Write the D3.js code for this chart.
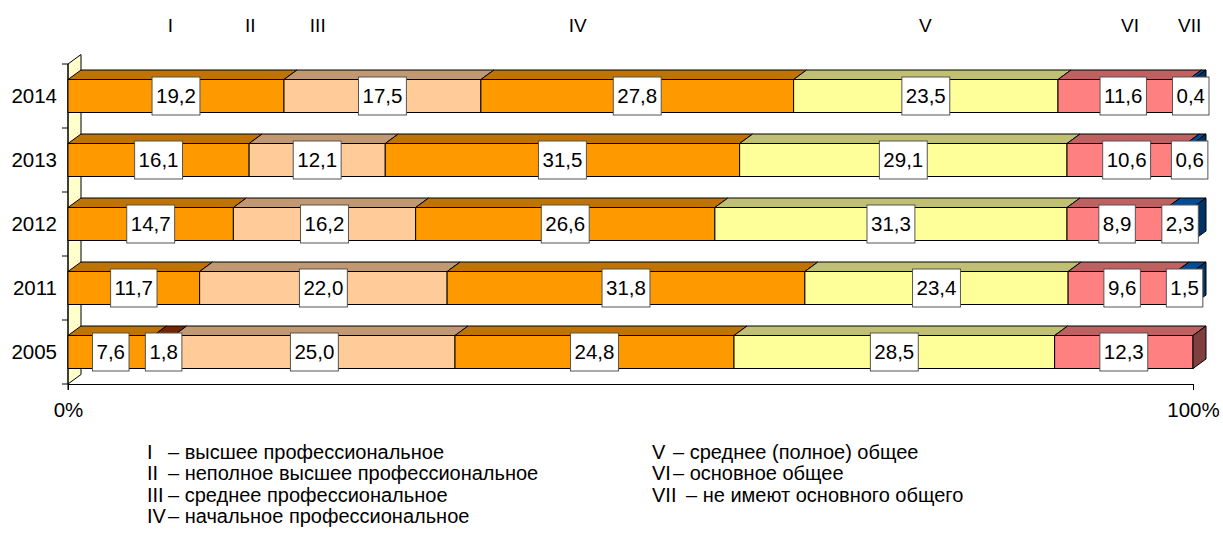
<!DOCTYPE html>
<html>
<head>
<meta charset="utf-8">
<script src="https://cdnjs.cloudflare.com/ajax/libs/d3/7.8.5/d3.min.js"></script>
<style>
  body { margin: 0; background: #fff; }
  text { font-family: "Liberation Sans", Arial, sans-serif; fill: #000; }
</style>
</head>
<body>
<svg id="chart" width="1223" height="536"></svg>
<script>
// Data (percent), bars top to bottom
var years = ["2014", "2013", "2012", "2011", "2005"];
var serI   = [19.2, 16.1, 14.7, 11.7, 7.6];
var serII  = [0, 0, 0, 0, 1.8];
var serIII = [17.5, 12.1, 16.2, 22.0, 25.0];
var serIV  = [27.8, 31.5, 26.6, 31.8, 24.8];
var serV   = [23.5, 29.1, 31.3, 23.4, 28.5];
var serVI  = [11.6, 10.6, 8.9, 9.6, 12.3];
var serVII = [0.4, 0.6, 2.3, 1.5, 0];

var seriesNames = ["I", "II", "III", "IV", "V", "VI", "VII"];
// roman numerals above the plot, position in % of the axis
var romanAt = [9.1, 16.2, 22.2, 45.3, 76.2, 94.4, 99.7];

var legendLeft  = ["высшее профессиональное", "неполное высшее профессиональное",
                   "среднее профессиональное", "начальное профессиональное"];
var legendRight = ["среднее (полное) общее", "основное общее", "не имеют основного общего"];

var series = [serI, serII, serIII, serIV, serV, serVI, serVII];

// front / top / side colours per series
var fronts = ["#FF9900", "#993300", "#FFCC99", "#FF9900", "#FFFF99", "#FF8080", "#0066CC"];
var tops   = ["#C07300", "#732600", "#C09973", "#C07300", "#C0C073", "#C06060", "#004C99"];
var sides  = ["#804D00", "#4D1A00", "#806650", "#804D00", "#80804D", "#804040", "#003366"];

var svg = d3.select('#chart');

var x = d3.scaleLinear().domain([0, 100]).range([68, 1193]);
var y = d3.scaleBand().domain(years).range([64, 384]);

var dx = 13, dy = 9.5, barH = 33;

// side wall
svg.append('polygon')
  .attr('points', [[x(0), y.range()[0]], [x(0) + dx, y.range()[0] - dy],
                   [x(0) + dx, y.range()[1] - dy], [x(0), y.range()[1]]].join(' '))
  .attr('fill', '#FFFFCC')
  .attr('stroke', '#000')
  .attr('stroke-width', 1);

// axes
var yAxisG = svg.append('g').attr('transform', 'translate(' + x(0) + ',0)');
yAxisG.append('line')
  .attr('y1', y.range()[0]).attr('y2', y.range()[1] + 6)
  .attr('stroke', '#000');
var bounds = years.map(function (d) { return y(d); }).concat([y.range()[1]]);
yAxisG.selectAll('.tk').data(bounds).enter().append('line')
  .attr('x1', -6).attr('x2', 0)
  .attr('y1', function (d) { return d; }).attr('y2', function (d) { return d; })
  .attr('stroke', '#000');
yAxisG.selectAll('.yl').data(years).enter().append('text')
  .attr('x', -11)
  .attr('y', function (d) { return y(d) + y.bandwidth() / 2; })
  .attr('dy', '0.36em')
  .attr('text-anchor', 'end')
  .style('font-size', '20.5px')
  .text(function (d) { return d; });

var xAxis = d3.axisBottom(x).tickValues([0, 100]).tickSize(6)
  .tickFormat(function (d) { return d + '%'; });
var xAxisG = svg.append('g')
  .attr('transform', 'translate(0,' + y.range()[1] + ')')
  .call(xAxis);
xAxisG.select('.domain').attr('stroke', '#000').attr('d', 'M' + x(0) + ',0.5H' + x(100));
xAxisG.selectAll('.tick line').attr('stroke', '#000');
xAxisG.selectAll('.tick text')
  .attr('y', 18)
  .attr('dy', '0.71em')
  .style('font-size', '20.5px')
  .style('font-family', '"Liberation Sans", Arial, sans-serif')
  .attr('fill', '#000');

// bars
var barsG = svg.append('g');
var labels = [];
years.forEach(function (yr, r) {
  var yc = y(yr) + y.bandwidth() / 2;
  var yt = yc - barH / 2, yb = yc + barH / 2;
  var acc = 0, lastIdx = -1, lastEnd = 0;
  series.forEach(function (s, k) {
    var v = s[r];
    if (!v) return;
    var x0 = x(acc), x1 = x(acc + v);
    barsG.append('polygon')
      .attr('points', [[x0, yt], [x0 + dx, yt - dy], [x1 + dx, yt - dy], [x1, yt]].join(' '))
      .attr('fill', tops[k]).attr('stroke', '#000').attr('stroke-width', 1);
    barsG.append('rect')
      .attr('x', x0).attr('y', yt).attr('width', x1 - x0).attr('height', barH)
      .attr('fill', fronts[k]).attr('stroke', '#000').attr('stroke-width', 1);
    labels.push({ v: v, cx: (x0 + x1) / 2, cy: yc });
    acc += v; lastIdx = k; lastEnd = x1;
  });
  barsG.append('polygon')
    .attr('points', [[lastEnd, yt], [lastEnd + dx, yt - dy], [lastEnd + dx, yb - dy], [lastEnd, yb]].join(' '))
    .attr('fill', sides[lastIdx]).attr('stroke', '#000').attr('stroke-width', 1);
});

// data labels
var fmt = function (v) { return v.toFixed(1).replace('.', ','); };
var lblG = svg.append('g');
labels.forEach(function (d) {
  var g = lblG.append('g');
  var rect = g.append('rect').attr('fill', '#fff').attr('stroke', '#555').attr('stroke-width', 1);
  var t = g.append('text')
    .attr('x', d.cx).attr('y', d.cy).attr('dy', '0.36em')
    .attr('text-anchor', 'middle')
    .style('font-size', '20.5px')
    .text(fmt(d.v));
  var w = t.node().getComputedTextLength() + 8;
  rect.attr('x', d.cx - w / 2).attr('y', d.cy - 19).attr('width', w).attr('height', 38);
});

// roman numerals on top
svg.selectAll('.roman').data(seriesNames).enter().append('text')
  .attr('x', function (d, i) { return x(romanAt[i]); })
  .attr('y', 32)
  .attr('text-anchor', 'middle')
  .style('font-size', '19px')
  .text(function (d) { return d; });

// legend
var legG = svg.append('g').style('font-size', '20px');
legendLeft.forEach(function (t, i) {
  legG.append('text').attr('x', 147).attr('y', 459 + i * 21.3).text(seriesNames[i]);
  legG.append('text').attr('x', 168).attr('y', 459 + i * 21.3).text('– ' + t);
});
legendRight.forEach(function (t, i) {
  var dashX = i === 2 ? 686 : 673;
  legG.append('text').attr('x', 652).attr('y', 459 + i * 21.3).text(seriesNames[4 + i]);
  legG.append('text').attr('x', dashX).attr('y', 459 + i * 21.3).text('– ' + t);
});
</script>
</body>
</html>
